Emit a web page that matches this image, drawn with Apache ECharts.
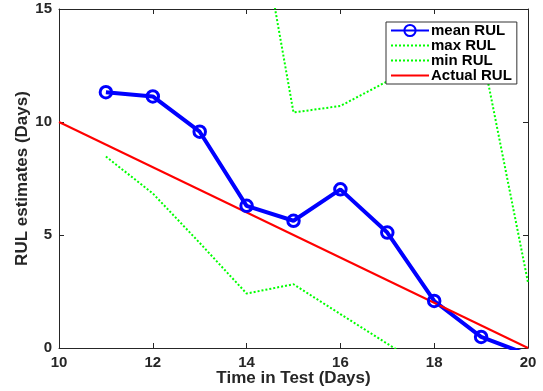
<!DOCTYPE html>
<html>
<head>
<meta charset="utf-8">
<script src="https://cdn.jsdelivr.net/npm/echarts@6/dist/echarts.min.js"></script>
<style>
  html, body { margin: 0; padding: 0; background: #fff; }
  #chart { width: 543px; height: 391px; }
</style>
</head>
<body>
<div id="chart"></div>
<script>
// days of the estimates
var days = [11, 12, 13, 14, 15, 16, 17, 18, 19, 20]
var meanRUL = [11.32, 11.13, 9.57, 6.29, 5.63, 7.02, 5.11, 2.08, 0.49, -0.29]
var maxRUL = [19.0, 20.5, 21.5, 22.1, 10.42, 10.71, 11.8, 12.6, 13.3, 2.9]
var minRUL = [8.47, 6.84, 4.65, 2.41, 2.82, 1.5, 0.19, -1.1, -2.3, -3.4]
var actualDays = [10, 20]
var actualRUL = [10, 0]
var xTicks = [10, 12, 14, 16, 18, 20]
var yTicks = [0, 5, 10, 15]

function pairs(xs, ys) {
  return xs.map(function(x, i) { return [x, ys[i]] })
}

var axisColor = '#262626'
var font = 'Liberation Sans, Arial, sans-serif'
var noMarker = { color: 'rgba(0,0,0,0)', borderWidth: 0 }

var chart = echarts.init(document.getElementById('chart'))
chart.setOption({
  backgroundColor: '#fff',
  animation: false,
  grid: { left: 59, right: 15, top: 9, bottom: 43, show: false, outerBoundsMode: 'none', containLabel: false },
  legend: {
    orient: 'vertical',
    left: 386,
    top: 22,
    padding: [1, 5, 1, 4],
    itemGap: 0,
    itemWidth: 38,
    itemHeight: 14,
    backgroundColor: '#fff',
    borderColor: '#333',
    borderWidth: 1,
    borderRadius: 0,
    textStyle: { fontFamily: font, fontWeight: 'bold', fontSize: 15, color: '#000', lineHeight: 14, padding: [0, 0, 0, -3] },
    data: ['mean RUL', 'max RUL', 'min RUL', 'Actual RUL']
  },
  xAxis: [{
    type: 'value',
    min: 10,
    max: 20,
    interval: 2,
    name: 'Time in Test (Days)',
    nameLocation: 'middle',
    nameGap: 22,
    nameMoveOverlap: false,
    nameTextStyle: { fontFamily: font, fontWeight: 'bold', fontSize: 17, color: axisColor },
    axisLine: { show: true, lineStyle: { color: axisColor, width: 1 } },
    axisTick: { show: true, inside: true, length: 5, lineStyle: { color: axisColor } },
    axisLabel: { margin: 7, fontFamily: font, fontWeight: 'bold', fontSize: 15, color: axisColor,
      customValues: xTicks },
    splitLine: { show: false }
  }, {
    type: 'value',
    position: 'top',
    min: 10,
    max: 20,
    interval: 2,
    axisLine: { show: true, onZero: false, lineStyle: { color: axisColor, width: 1 } },
    axisTick: { show: true, inside: true, length: 5, lineStyle: { color: axisColor } },
    axisLabel: { show: false },
    splitLine: { show: false }
  }],
  yAxis: [{
    type: 'value',
    min: 0,
    max: 15,
    interval: 5,
    name: 'RUL estimates (Days)',
    nameLocation: 'middle',
    nameGap: 28,
    nameMoveOverlap: false,
    nameTextStyle: { fontFamily: font, fontWeight: 'bold', fontSize: 17, color: axisColor },
    axisLine: { show: true, lineStyle: { color: axisColor, width: 1 } },
    axisTick: { show: true, inside: true, length: 5, lineStyle: { color: axisColor } },
    axisLabel: { margin: 7, fontFamily: font, fontWeight: 'bold', fontSize: 15, color: axisColor,
      customValues: yTicks },
    splitLine: { show: false }
  }, {
    type: 'value',
    position: 'right',
    min: 0,
    max: 15,
    interval: 5,
    axisLine: { show: true, onZero: false, lineStyle: { color: axisColor, width: 1 } },
    axisTick: { show: true, inside: true, length: 5, lineStyle: { color: axisColor } },
    axisLabel: { show: false },
    splitLine: { show: false }
  }],
  series: [{
    name: 'mean RUL',
    type: 'line',
    data: pairs(days, meanRUL),
    symbol: 'circle',
    symbolSize: 11.5,
    showAllSymbol: true,
    lineStyle: { color: '#0000ff', width: 4 },
    itemStyle: { color: 'rgba(255,255,255,0)', borderColor: '#0000ff', borderWidth: 3 }
  }, {
    name: 'max RUL',
    type: 'line',
    data: pairs(days, maxRUL),
    symbol: 'none',
    lineStyle: { color: '#00ff00', width: 2, type: [2, 2] },
    itemStyle: noMarker
  }, {
    name: 'min RUL',
    type: 'line',
    data: pairs(days, minRUL),
    symbol: 'none',
    lineStyle: { color: '#00ff00', width: 2, type: [2, 2] },
    itemStyle: noMarker
  }, {
    name: 'Actual RUL',
    type: 'line',
    data: pairs(actualDays, actualRUL),
    symbol: 'none',
    lineStyle: { color: '#ff0000', width: 2 },
    itemStyle: noMarker
  }]
})
</script>
</body>
</html>
